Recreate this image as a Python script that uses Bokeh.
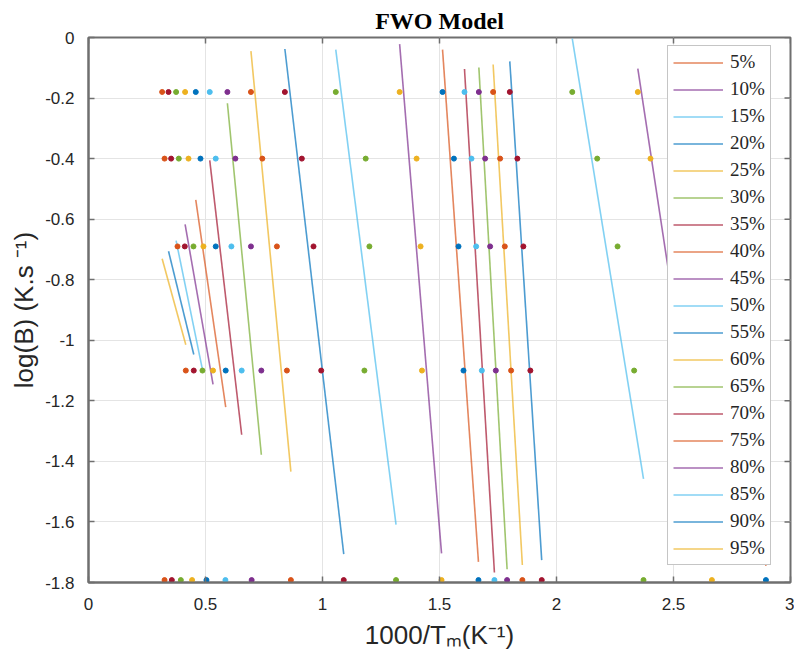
import numpy as np
from bokeh.plotting import figure
from bokeh.models import FixedTicker, NumeralTickFormatter, Range1d, ColumnDataSource
from bokeh.embed import file_html
from bokeh.resources import INLINE

# ---------------- data ----------------
conversions = ["5%", "10%", "15%", "20%", "25%", "30%", "35%", "40%", "45%", "50%",
               "55%", "60%", "65%", "70%", "75%", "80%", "85%", "90%", "95%"]

# log(B) of the five heating rates
log_beta = [-0.18, -0.40, -0.69, -1.10, -1.792]

# 1000/Tm for each conversion (5% .. 95%) at each heating rate
x_rate1 = [2.58, 2.3475, 2.0674, 1.8004, 1.7292, 1.6682, 1.6068, 1.513, 1.3296, 1.0567,
           0.8392, 0.6942, 0.5936, 0.5181, 0.4584, 0.4128, 0.3744, 0.342, 0.3147]
x_rate2 = [2.64, 2.4017, 2.174, 1.8328, 1.7591, 1.6951, 1.6367, 1.5616, 1.4021, 1.1846,
           0.9117, 0.7429, 0.6277, 0.5437, 0.4785, 0.4273, 0.3859, 0.3531, 0.325]
x_rate3 = [2.76, 2.50, 2.261, 1.8584, 1.7791, 1.7164, 1.6567, 1.5812, 1.4192, 1.2004,
           0.9616, 0.8051, 0.6942, 0.6107, 0.5437, 0.4913, 0.4486, 0.4115, 0.3804]
x_rate4 = [2.82, 2.58, 2.3318, 1.8883, 1.806, 1.7407, 1.681, 1.6026, 1.4251, 1.1791,
           0.9945, 0.8478, 0.7386, 0.6546, 0.5864, 0.5322, 0.487, 0.4499, 0.4158]
x_rate5 = [2.895, 2.664, 2.3718, 1.9369, 1.8541, 1.7889, 1.7347, 1.6665, 1.5087, 1.3143,
           1.0908, 0.8648, 0.6972, 0.5851, 0.5041, 0.4426, 0.3945, 0.3561, 0.325]

# fitted line value at the smallest and at the largest 1000/Tm of each conversion
fit_start = [-0.10, -0.103, -0.004, -0.079, -0.089, -0.099, -0.104, -0.040, -0.022, -0.040,
             -0.038, -0.045, -0.217, -0.406, -0.536, -0.617, -0.671, -0.706, -0.731]
fit_end = [-1.745, -1.715, -1.458, -1.726, -1.742, -1.756, -1.767, -1.732, -1.704, -1.609,
           -1.706, -1.434, -1.378, -1.312, -1.221, -1.146, -1.097, -1.047, -1.015]

BLUE, ORANGE, YELLOW, PURPLE = "#0072BD", "#D95319", "#EDB120", "#7E2F8E"
GREEN, LBLUE, DRED = "#77AC30", "#4DBEEE", "#A2142F"

line_cycle = [ORANGE, PURPLE, LBLUE, BLUE, YELLOW, GREEN, DRED]
dot_cycle = [BLUE, YELLOW, GREEN, DRED, ORANGE, PURPLE, LBLUE]
line_colors = [line_cycle[i % 7] for i in range(len(conversions))]
dot_colors = [dot_cycle[i % 7] for i in range(len(conversions))]

x_ticks = [0, 0.5, 1, 1.5, 2, 2.5, 3]
y_ticks = [-1.8, -1.6, -1.4, -1.2, -1.0, -0.8, -0.6, -0.4, -0.2, 0]
x_lim = (0, 3)
y_lim = (-1.8, 0)

# ---------------- figure ----------------
p = figure(width=794, height=665, output_backend="svg", toolbar_location=None,
           x_range=Range1d(*x_lim), y_range=Range1d(*y_lim),
           min_border_left=88, min_border_right=4, min_border_top=37, min_border_bottom=83,
           background_fill_color="white", border_fill_color="white")

p.title.text = "FWO Model"
p.title.text_font = "Liberation Serif"
p.title.text_font_size = "24px"
p.title.text_font_style = "bold"
p.title.align = "center"
p.title.text_color = "#000000"
p.title.standoff = 8

rows = [x_rate1, x_rate2, x_rate3, x_rate4, x_rate5]

# fitted lines
for i, conv in enumerate(conversions):
    xs = [r[i] for r in rows]
    p.line([min(xs), max(xs)], [fit_start[i], fit_end[i]], line_color=line_colors[i],
           line_alpha=0.7, line_width=1.6, legend_label=conv)

# measured points
for r, lb in zip(rows, log_beta):
    src = ColumnDataSource(dict(x=r, y=[lb] * len(r), c=dot_colors))
    p.scatter("x", "y", source=src, size=5, fill_color="c", line_color="c")

axis_col = "#6f6f6f"
for ax in (p.xaxis[0], p.yaxis[0]):
    ax.major_label_text_font = "Liberation Sans"
    ax.major_label_text_font_size = "17px"
    ax.major_label_text_color = "#262626"
    ax.axis_label_text_font = "Liberation Sans"
    ax.axis_label_text_font_size = "26px"
    ax.axis_label_text_font_style = "normal"
    ax.axis_label_text_color = "#262626"
    ax.axis_line_color = axis_col
    ax.axis_line_width = 2
    ax.major_tick_line_color = axis_col
    ax.major_tick_line_width = 1.5
    ax.major_tick_in = 6
    ax.major_tick_out = 0
    ax.minor_tick_line_color = None
    ax.formatter = NumeralTickFormatter(format="0.[0]")

p.xaxis[0].ticker = FixedTicker(ticks=x_ticks)
p.yaxis[0].ticker = FixedTicker(ticks=y_ticks)
p.xaxis[0].axis_label = "1000/Tₘ(K⁻¹)"
p.yaxis[0].axis_label = "log(B) (K.s ⁻¹)"
p.xaxis[0].major_label_standoff = 15
p.yaxis[0].major_label_standoff = 14
p.xaxis[0].axis_label_standoff = 7
p.yaxis[0].axis_label_standoff = 3

# inward ticks on the top and right sides of the box
p.ray(x=x_ticks, y=[y_lim[1]] * len(x_ticks), length=6, length_units="screen",
      angle=-np.pi / 2, line_color=axis_col, line_width=1.5)
p.ray(x=[x_lim[1]] * len(y_ticks), y=y_ticks, length=6, length_units="screen",
      angle=np.pi, line_color=axis_col, line_width=1.5)

p.xgrid.ticker = FixedTicker(ticks=x_ticks)
p.ygrid.ticker = FixedTicker(ticks=y_ticks)
p.xgrid.grid_line_color = "#e4e4e4"
p.ygrid.grid_line_color = "#e4e4e4"

p.outline_line_color = axis_col
p.outline_line_width = 2

# legend
lg = p.legend[0]
lg.location = (579, 17)
lg.label_text_font = "Liberation Serif"
lg.label_text_font_size = "19px"
lg.label_text_color = "#262626"
lg.label_height = 21
lg.glyph_height = 21
lg.glyph_width = 50
lg.label_standoff = 7
lg.spacing = 5
lg.padding = 5
lg.margin = 0
lg.border_line_color = "#8c8c8c"
lg.border_line_width = 1.5
lg.background_fill_color = "white"
lg.background_fill_alpha = 1.0

open("out.html", "w").write(file_html(p, INLINE))
